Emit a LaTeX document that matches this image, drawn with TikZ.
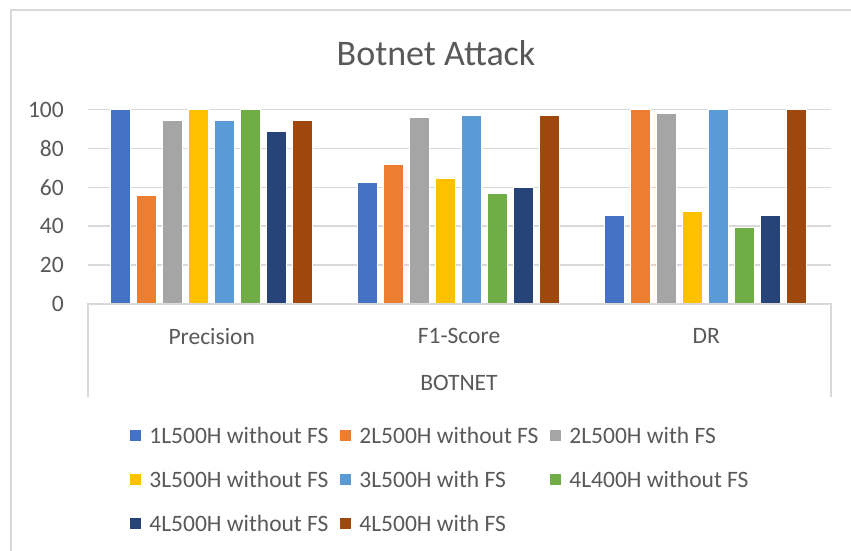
\documentclass[tikz,border=0pt]{standalone}
\usepackage{fontspec}
\setmainfont{Carlito}
\usetikzlibrary{positioning}
\definecolor{barA}{HTML}{4472C4}
\definecolor{barB}{HTML}{ED7D31}
\definecolor{barC}{HTML}{A5A5A5}
\definecolor{barD}{HTML}{FFC000}
\definecolor{barE}{HTML}{5B9BD5}
\definecolor{barF}{HTML}{70AD47}
\definecolor{barG}{HTML}{264478}
\definecolor{barH}{HTML}{9E480E}
\definecolor{txtgray}{HTML}{595959}
\definecolor{linegray}{HTML}{D9D9D9}
\tikzset{
  gridline/.style={linegray, line width=1.5pt},
  axisline/.style={linegray, line width=2pt},
  ylab/.style={anchor=east, inner sep=0pt, text=txtgray, font=\fontsize{23.5}{26}\selectfont},
  catlab/.style={inner sep=0pt, text=txtgray, font=\fontsize{23.5}{26}\selectfont},
  legsq/.style={minimum size=11pt, inner sep=0pt},
  legtxt/.style={right=8pt of #1, inner sep=0pt, text=txtgray, font=\fontsize{23.5}{26}\selectfont}
}

\begin{document}
\begin{tikzpicture}[x=1pt, y=-1pt]

  \newcommand\GX{247.3}; % group pitch
  \newcommand\SY{1.945}; % px per unit
  \newcommand\barset[2]{%
    \foreach \v/\c [count=\i from 0] in {#2}
      \filldraw[fill=\c, draw=white, line width=0.4pt]
        ({110+#1*\GX+\i*26}, 304) rectangle +(20, {-\SY*\v});
  }

  \useasboundingbox (0,0) rectangle (851,551);
  \fill[white] (0,0) rectangle (851,551);

  %% chart frame
  \draw[linegray, line width=1.5pt] (11,551) -- (11,10) -- (851,10);

  %% title
  \node[text=txtgray, font=\fontsize{36}{40}\selectfont, inner sep=0pt] (title) at (436,53) {Botnet Attack};

  %% grid and y labels
  \foreach \t in {20,40,...,100}
    \draw[gridline] (87.5, {304-\SY*\t}) -- (830.5, {304-\SY*\t});
  \foreach \t in {0,20,...,100}
    \node[ylab] (y\t) at (64, {304-\SY*\t}) {\t};

  %% bars
  \barset{0}{100/barA, 56/barB, 94.3/barC, 100/barD, 94.3/barE, 100/barF, 88.6/barG, 94.5/barH}
  \barset{1}{62.8/barA, 71.8/barB, 95.9/barC, 64.8/barD, 97/barE, 56.8/barF, 60.2/barG, 97/barH}
  \barset{2}{45.6/barA, 100/barB, 98/barC, 47.5/barD, 100/barE, 39.6/barF, 45.6/barG, 100/barH}

  %% category axis
  \draw[axisline] (87.5,397) -- (87.5,304) -- (830.5,304) -- (830.5,397);
  \node[catlab] (prec) at (211.7,336) {Precision};
  \node[catlab] (fone) at (459,336) {F1-Score};
  \node[catlab] (dr) at (706.3,336) {DR};
  \node[catlab] (botnet) at (459,383) {BOTNET};

  %% legend
  \node[legsq, fill=barA] (sqA) at (135.5,435) {};
  \node[legtxt=sqA] (lgA) {1L500H without FS};
  \node[legsq, fill=barB] (sqB) at (345.5,435) {};
  \node[legtxt=sqB] (lgB) {2L500H without FS};
  \node[legsq, fill=barC] (sqC) at (555.5,435) {};
  \node[legtxt=sqC] (lgC) {2L500H with FS};
  \node[legsq, fill=barD] (sqD) at (135.5,479) {};
  \node[legtxt=sqD] (lgD) {3L500H without FS};
  \node[legsq, fill=barE] (sqE) at (345.5,479) {};
  \node[legtxt=sqE] (lgE) {3L500H with FS};
  \node[legsq, fill=barF] (sqF) at (555.5,479) {};
  \node[legtxt=sqF] (lgF) {4L400H without FS};
  \node[legsq, fill=barG] (sqG) at (135.5,523) {};
  \node[legtxt=sqG] (lgG) {4L500H without FS};
  \node[legsq, fill=barH] (sqH) at (345.5,523) {};
  \node[legtxt=sqH] (lgH) {4L500H with FS};

\end{tikzpicture}
\end{document}
